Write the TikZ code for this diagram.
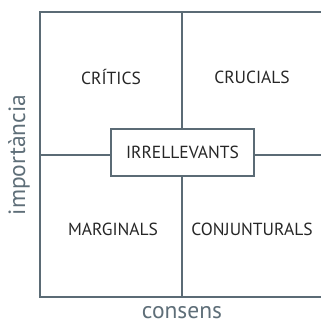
\documentclass[tikz,border=0pt]{standalone}
\usepackage{fontspec}
\setmainfont{PT Sans}
\definecolor{gridgray}{HTML}{5B6B75}
\definecolor{labelgray}{HTML}{5E6E78}
\begin{document}
\begin{tikzpicture}[x=1pt,y=-1pt,
    grid/.style={draw=gridgray, line width=1.8pt},
    quad/.style={font=\fontsize{17.5}{19}\selectfont, text=black!85},
    axis/.style={font=\fontsize{23.5}{25}\selectfont, text=labelgray}]
        \useasboundingbox (0,0) rectangle (321,324);

        % frame corners and midpoints
        \coordinate (tl) at (40,12);
        \coordinate (tr) at (322,12);
        \coordinate (bl) at (40,297);
        \coordinate (br) at (322,297);
        \coordinate (topmid) at (182,12);
        \coordinate (botmid) at (182,297);
        \coordinate (leftmid) at (40,155);
        \coordinate (rightmid) at (322,155);

        % frame (open on the right)
        \draw[grid] (tr) -- (tl) -- (bl) -- (br);

        % centre box
        \node[grid, fill=white, quad, minimum width=143pt, minimum height=47pt, inner sep=0pt]
            (irr) at (182.5,152.5) {IRRELLEVANTS};

        % dividing lines
        \draw[grid] (topmid) -- (topmid |- irr.north);
        \draw[grid] (botmid) -- (botmid |- irr.south);
        \draw[grid] (leftmid) -- (leftmid -| irr.west);
        \draw[grid] (rightmid) -- (rightmid -| irr.east);

        % quadrant labels
        \node[quad] (critics) at (111,77) {CRÍTICS};
        \node[quad] (crucials) at (252,77) {CRUCIALS};
        \node[quad] (marginals) at (113,229) {MARGINALS};
        \node[quad] (conjunturals) at (252,229) {CONJUNTURALS};

        % axis labels
        \node[axis, rotate=90] (importancia) at (19,155) {importància};
        \node[axis] (consens) at (182,313) {consens};
      \end{tikzpicture}
\end{document}
